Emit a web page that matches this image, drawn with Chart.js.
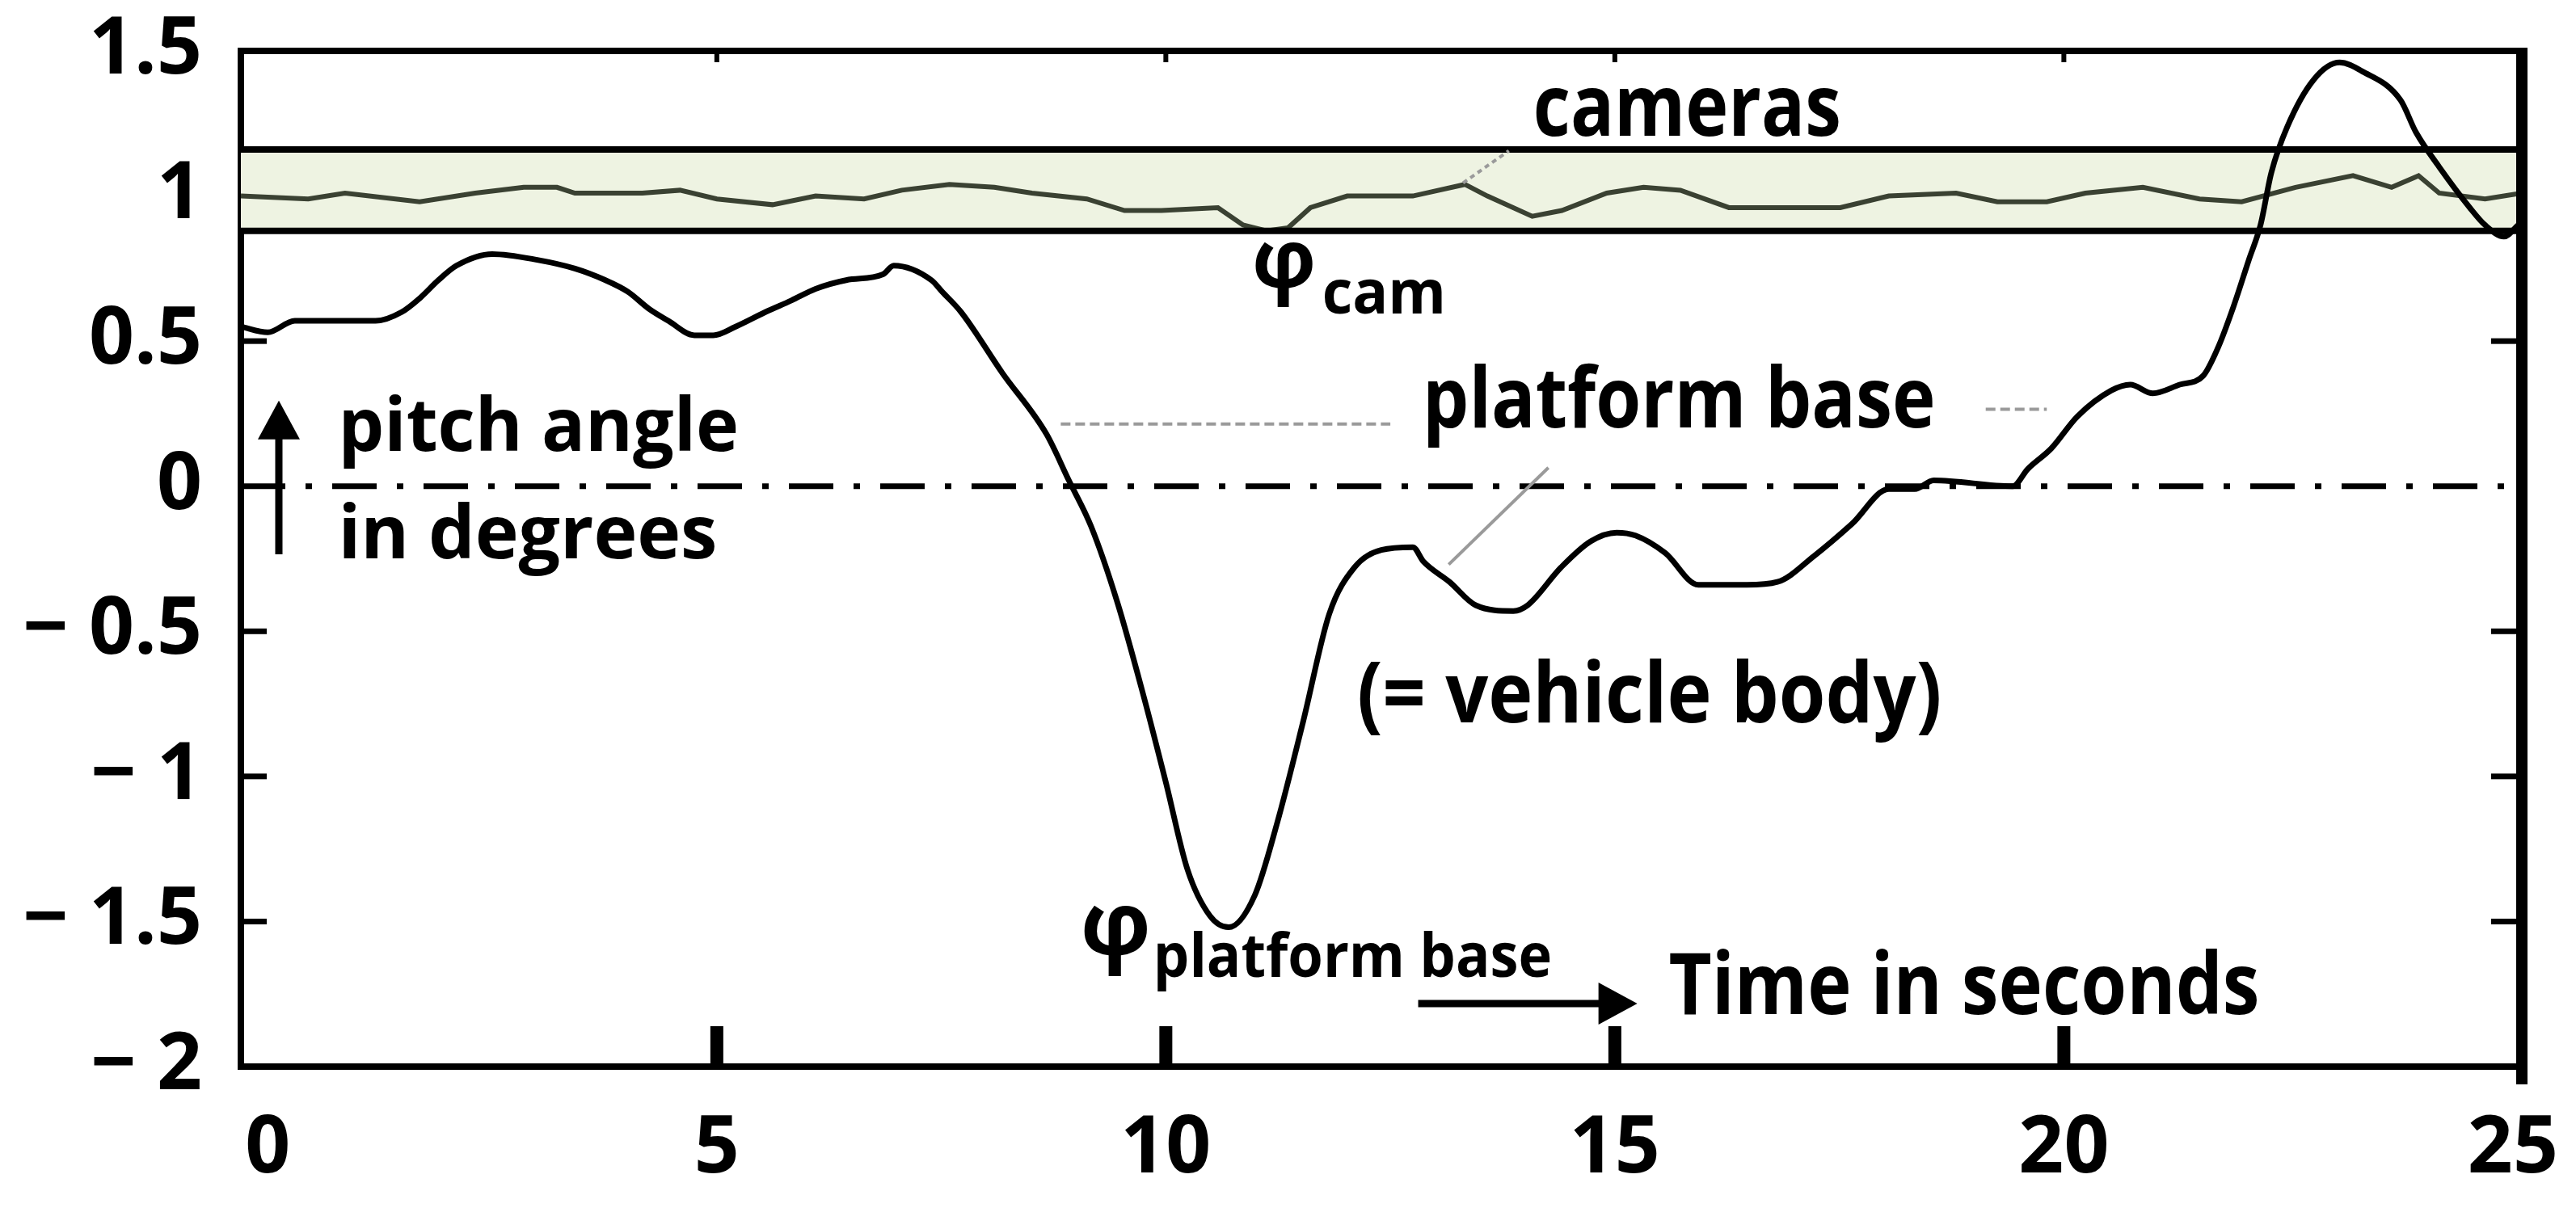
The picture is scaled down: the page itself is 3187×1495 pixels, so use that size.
<!DOCTYPE html>
<html>
<head>
<meta charset="utf-8">
<script src="https://cdn.jsdelivr.net/npm/chart.js@4.4.1/dist/chart.umd.min.js"></script>
<style>
  html, body { margin: 0; padding: 0; background: #fff; }
  #wrap { width: 3187px; height: 1495px; }
</style>
</head>
<body>
<div id="wrap"><canvas id="pitch" width="3187" height="1495"></canvas></div>
<script>
// pitch of the platform base (= vehicle body)
const baseTime = [-0.3, 0.0, 0.3, 0.8, 1.2, 1.49, 1.7, 1.9, 2.1, 2.5, 3.0, 3.42, 3.76, 4.01, 4.25, 4.46, 4.75, 4.96,
  5.21, 5.54, 5.83, 6.1, 6.44, 6.85, 6.97, 7.39, 7.51, 7.72, 8.18, 8.67, 8.92, 9.17, 9.46, 9.75, 10.0, 10.24,
  10.49, 10.7, 10.99, 11.24, 11.53, 11.82, 12.1, 12.4, 12.75, 12.87, 13.16, 13.45, 13.87, 14.03, 14.4, 14.73,
  15.02, 15.23, 15.56, 15.93, 16.47, 16.81, 17.22, 17.64, 18.05, 18.34, 18.55, 19.43, 19.6, 19.86, 20.15, 20.53,
  20.74, 20.99, 21.29, 21.55, 21.72, 21.89, 22.06, 22.19, 22.31, 22.49, 22.78, 23.07, 23.32, 23.75, 23.92, 24.18,
  24.52, 24.69, 24.9, 25.06];
const basePitch = [0.55, 0.53, 0.57, 0.57, 0.57, 0.60, 0.65, 0.71, 0.76, 0.80, 0.78, 0.75, 0.71, 0.67, 0.61, 0.57, 0.52, 0.52,
  0.55, 0.60, 0.64, 0.68, 0.71, 0.73, 0.76, 0.71, 0.67, 0.60, 0.39, 0.18, 0.02, -0.14, -0.40, -0.72, -1.02, -1.32,
  -1.48, -1.52, -1.41, -1.16, -0.81, -0.44, -0.28, -0.22, -0.21, -0.26, -0.33, -0.41, -0.43, -0.41, -0.28, -0.19,
  -0.16, -0.17, -0.23, -0.34, -0.34, -0.33, -0.24, -0.13, -0.01, -0.01, 0.02, 0.0, 0.06, 0.13, 0.24, 0.33,
  0.35, 0.32, 0.35, 0.38, 0.48, 0.62, 0.78, 0.90, 1.08, 1.24, 1.40, 1.46, 1.43, 1.33, 1.22, 1.10,
  0.96, 0.90, 0.86, 0.90];

// pitch of the cameras
const camTime = [-0.3, 0.45, 0.86, 1.69, 2.31, 2.85, 3.22, 3.42, 4.17, 4.59, 5.0, 5.62, 6.1, 6.64, 7.06, 7.59, 8.09,
  8.51, 9.12, 9.54, 9.95, 10.58, 10.86, 11.12, 11.36, 11.61, 12.02, 12.3, 12.75, 13.33, 13.58, 14.08, 14.41, 14.91,
  15.32, 15.73, 16.27, 16.89, 17.51, 18.05, 18.8, 19.26, 19.81, 20.24, 20.88, 21.51, 21.98, 22.58, 23.22, 23.65,
  23.95, 24.18, 24.69, 25.1];
const camPitch = [1.00, 0.99, 1.01, 0.98, 1.01, 1.03, 1.03, 1.01, 1.01, 1.02, 0.99, 0.97, 1.00, 0.99, 1.02, 1.04, 1.03,
  1.01, 0.99, 0.95, 0.95, 0.96, 0.90, 0.88, 0.89, 0.96, 1.00, 1.00, 1.00, 1.04, 1.00, 0.93, 0.95, 1.01,
  1.03, 1.02, 0.96, 0.96, 0.96, 1.00, 1.01, 0.98, 0.98, 1.01, 1.03, 0.99, 0.98, 1.03, 1.07, 1.03,
  1.07, 1.01, 0.99, 1.01];

const camBand = [0.88, 1.16];
const zeroLevel = 0;

const xTicks = [0, 5, 10, 15, 20, 25];
const xTickLabels = ["0", "5", "10", "15", "20", "25"];
const yTicks = [-2, -1.5, -1, -0.5, 0, 0.5, 1, 1.5];
const yTickLabels = ["\u2212 2", "\u2212 1.5", "\u2212 1", "\u2212 0.5", "0", "0.5", "1", "1.5"];

const X_MIN = -0.3, X_MAX = 25.1;

// text put on the plot, in data units (x, baseline y, width w)
const notes = [
  { text: "cameras", x: 14.09, y: 1.209, size: 106, w: 3.43 },
  { text: "\u03c6", x: 10.96, y: 0.685, size: 100 },
  { text: "cam", x: 11.74, y: 0.596, size: 75, w: 1.38 },
  { text: "platform base", x: 12.86, y: 0.203, size: 104, w: 5.71 },
  { text: "(= vehicle body)", x: 12.13, y: -0.813, size: 104, w: 6.51 },
  { text: "\u03c6", x: 9.05, y: -1.616, size: 110 },
  { text: "platform base", x: 9.86, y: -1.69, size: 75, w: 4.44 },
  { text: "Time in seconds", x: 15.6, y: -1.819, size: 105, w: 6.58 },
  { text: "pitch angle", x: 0.785, y: 0.1226, size: 92, w: 4.46 },
  { text: "in degrees", x: 0.785, y: -0.248, size: 92, w: 4.22 }
];
const arrows = [
  { x1: 12.81, y1: -1.783, x2: 15.25, y2: -1.783 },
  { x1: 0.123, y1: -0.235, x2: 0.123, y2: 0.295 }
];
const leaders = [
  { x1: 8.83, y1: 0.214, x2: 12.5, y2: 0.214, dash: [12, 6] },
  { x1: 19.13, y1: 0.265, x2: 19.81, y2: 0.265, dash: [12, 6] },
  { x1: 13.15, y1: -0.27, x2: 14.26, y2: 0.064, dash: [] },
  { x1: 13.31, y1: 1.045, x2: 13.82, y2: 1.156, dash: [6, 5] }
];

function pts(xs, ys) {
  return xs.map((t, i) => ({ x: t, y: ys[i] }));
}
function flat(v) {
  return [{ x: X_MIN, y: v }, { x: X_MAX, y: v }];
}

const overlay = {
  id: "overlay",
  afterDatasetsDraw(chart) {
    const { ctx, chartArea: a, scales: { x, y } } = chart;
    ctx.save();
    ctx.fillStyle = "#000";
    ctx.strokeStyle = "#000";

    // top edge and heavy right edge of the frame
    ctx.fillRect(a.left - 4, a.top - 4, a.right - a.left + 4, 8);
    ctx.fillRect(a.right - 7, a.top - 4, 14, a.bottom - a.top + 26);

    // inward tick marks
    xTicks.forEach(v => {
      if (v <= 0 || v >= 25) return;
      const px = x.getPixelForValue(v);
      ctx.fillRect(px - 8, a.bottom - 50, 16, 50);
      ctx.fillRect(px - 3, a.top, 6, 14);
    });
    [-1.5, -1, -0.5, 0.5].forEach(v => {
      const py = y.getPixelForValue(v);
      ctx.fillRect(a.left, py - 3.5, 32, 7);
      ctx.fillRect(a.right - 38, py - 3.5, 38, 7);
    });

    // thin leader lines
    ctx.strokeStyle = "#9a9a9a";
    ctx.lineWidth = 4;
    leaders.forEach(l => {
      ctx.setLineDash(l.dash);
      ctx.beginPath();
      ctx.moveTo(x.getPixelForValue(l.x1), y.getPixelForValue(l.y1));
      ctx.lineTo(x.getPixelForValue(l.x2), y.getPixelForValue(l.y2));
      ctx.stroke();
    });
    ctx.setLineDash([]);

    // arrows
    ctx.strokeStyle = "#000";
    ctx.lineWidth = 9;
    arrows.forEach(ar => {
      const x1 = x.getPixelForValue(ar.x1), y1 = y.getPixelForValue(ar.y1);
      const x2 = x.getPixelForValue(ar.x2), y2 = y.getPixelForValue(ar.y2);
      const ang = Math.atan2(y2 - y1, x2 - x1);
      const head = 48, half = 26;
      ctx.beginPath();
      ctx.moveTo(x1, y1);
      ctx.lineTo(x2 - head * 0.6 * Math.cos(ang), y2 - head * 0.6 * Math.sin(ang));
      ctx.stroke();
      ctx.beginPath();
      ctx.moveTo(x2, y2);
      ctx.lineTo(x2 - head * Math.cos(ang) - half * Math.sin(ang), y2 - head * Math.sin(ang) + half * Math.cos(ang));
      ctx.lineTo(x2 - head * Math.cos(ang) + half * Math.sin(ang), y2 - head * Math.sin(ang) - half * Math.cos(ang));
      ctx.closePath();
      ctx.fill();
    });

    // labels
    ctx.textAlign = "left";
    ctx.textBaseline = "alphabetic";
    notes.forEach(n => {
      ctx.font = "bold " + n.size + "px 'Open Sans'";
      const px = x.getPixelForValue(n.x), py = y.getPixelForValue(n.y);
      let sx = 1;
      if (n.w) {
        const target = x.getPixelForValue(n.x + n.w) - px;
        sx = target / ctx.measureText(n.text).width;
      }
      ctx.save();
      ctx.translate(px, py);
      ctx.scale(sx, 1);
      ctx.fillText(n.text, 0, 0);
      ctx.restore();
    });
    ctx.restore();
  }
};

Chart.defaults.font.family = "'Open Sans', sans-serif";
Chart.defaults.color = "#000";

new Chart(document.getElementById("pitch"), {
  type: "line",
  data: {
    datasets: [
      {
        // platform base curve
        data: pts(baseTime, basePitch),
        borderColor: "#000",
        borderWidth: 7,
        cubicInterpolationMode: "monotone",
        pointRadius: 0,
        order: 0
      },
      {
        data: flat(camBand[1]),
        borderColor: "#000",
        borderWidth: 8,
        backgroundColor: "#eef3e2",
        fill: { value: camBand[0] },
        pointRadius: 0,
        order: 1
      },
      {
        data: flat(camBand[0]),
        borderColor: "#000",
        borderWidth: 8,
        pointRadius: 0,
        order: 1
      },
      {
        data: flat(zeroLevel),
        borderColor: "#000",
        borderWidth: 7,
        borderDash: [55, 25, 8, 25],
        pointRadius: 0,
        order: 2
      },
      {
        // camera pitch
        data: pts(camTime, camPitch),
        borderColor: "#3a4132",
        borderWidth: 6,
        tension: 0,
        pointRadius: 0,
        order: 3
      }
    ]
  },
  options: {
    responsive: false,
    devicePixelRatio: 1,
    animation: false,
    layout: { padding: { top: 63, right: 67, left: 0, bottom: 0 } },
    plugins: {
      legend: { display: false },
      tooltip: { enabled: false },
      filler: { drawTime: "beforeDatasetsDraw" }
    },
    scales: {
      x: {
        type: "linear",
        min: X_MIN,
        max: X_MAX,
        afterFit: s => { s.height = 175; s.paddingLeft = 0; s.paddingRight = 0; },
        afterBuildTicks: s => { s.ticks = xTicks.map(v => ({ value: v })); },
        grid: { display: false, drawTicks: false },
        border: { display: true, color: "#000", width: 8 },
        ticks: {
          padding: 44,
          maxRotation: 0,
          autoSkip: false,
          font: { size: 98, weight: "bold" },
          callback: (v, i) => xTickLabels[i]
        }
      },
      y: {
        type: "linear",
        min: -2,
        max: 1.5,
        afterFit: s => { s.width = 298; s.paddingTop = 0; s.paddingBottom = 0; },
        afterBuildTicks: s => { s.ticks = yTicks.map(v => ({ value: v })); },
        grid: { display: false, drawTicks: false },
        border: { display: true, color: "#000", width: 8 },
        ticks: {
          padding: 48,
          autoSkip: false,
          font: { size: 98, weight: "bold" },
          callback: (v, i) => yTickLabels[i]
        }
      }
    }
  },
  plugins: [overlay]
});
</script>
</body>
</html>
